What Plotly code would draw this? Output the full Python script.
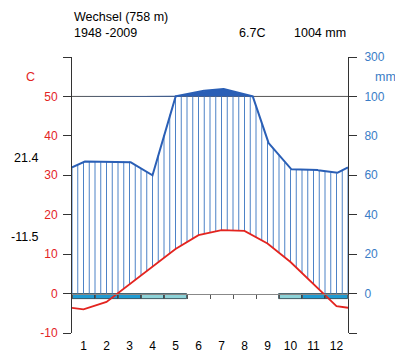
import numpy as np
import plotly.graph_objects as go

# ---------------- data ----------------
months = list(range(1, 13))
month_labels = [str(m) for m in months]
temp = [-4.0, -2.1, 2.3, 6.8, 11.3, 14.8, 16.1, 15.9, 12.7, 8.0, 2.4, -3.2]   # deg C
prec = [67, 67, 67, 60, 101, 125, 140, 113, 77, 63, 63, 61]                  # mm
frost = [2, 2, 2, 1, 1, 0, 0, 0, 0, 1, 2, 2]  # 2 = sure frost, 1 = probable frost
station = "Wechsel (758 m)"
period = "1948 -2009"
t_mean_label = "6.7C"
p_sum_label = "1004 mm"
abs_max_label = "21.4"
abs_min_label = "-11.5"
temp_ticks = [-10, 0, 10, 20, 30, 40, 50]
prec_ticks = [0, 20, 40, 60, 80, 100, 300]

# ---------------- helpers ----------------
RED = "#e3241f"
BLUE_TXT = "#3a7cc6"
PCOL = "#2a5fb6"
HATCH = "#4d82c6"
AX = "#333333"
FONT = "Liberation Sans"


def ptrans(p):
    p = np.asarray(p, dtype=float)
    return np.where(p <= 100, p / 2.0, 50 + (p - 100) / 20.0)


xm = np.array([0.0] + [m - 0.5 for m in months] + [12.0])
t_ext = np.array([(temp[0] + temp[-1]) / 2] + temp + [(temp[0] + temp[-1]) / 2])
p_ext = np.array([(prec[0] + prec[-1]) / 2] + prec + [(prec[0] + prec[-1]) / 2])

xf = np.linspace(0, 12, 1201)
pf = np.interp(xf, xm, p_ext)
pft = ptrans(pf)

# hatching (humid period)
hx, hy = [], []
for xv in np.arange(0, 12.0001, 0.25):
    lo = max(float(np.interp(xv, xm, t_ext)), 0.0)
    hi = min(float(ptrans(np.interp(xv, xm, p_ext))), 50.0)
    if hi > lo:
        hx += [xv, xv, None]
        hy += [lo, hi, None]

fig = go.Figure()

fig.add_trace(go.Scatter(x=hx, y=hy, mode="lines",
                         line=dict(color=HATCH, width=1), hoverinfo="skip",
                         showlegend=False))

# fill above 100 mm
fig.add_trace(go.Scatter(x=xf, y=np.full_like(xf, 50.0), mode="lines",
                         line=dict(width=0, color=PCOL), showlegend=False,
                         hoverinfo="skip"))
fig.add_trace(go.Scatter(x=xf, y=np.maximum(pft, 50.0), mode="lines",
                         fill="tonexty", fillcolor=PCOL,
                         line=dict(width=0, color=PCOL), showlegend=False,
                         hoverinfo="skip"))

# precipitation curve
fig.add_trace(go.Scatter(x=xf, y=pft, mode="lines",
                         line=dict(color=PCOL, width=2), showlegend=False))

# frost boxes
fx = [m - 0.5 for m, f in zip(months, frost) if f > 0]
fc = ["#1f9bd2" if f == 2 else "#8dd3d8" for f in frost if f > 0]
fig.add_trace(go.Bar(x=fx, y=[-1.4] * len(fx), base=0, width=1,
                     marker=dict(color=fc, line=dict(color="#203844", width=0.8)),
                     showlegend=False))

# temperature curve
fig.add_trace(go.Scatter(x=xm, y=t_ext, mode="lines",
                         line=dict(color=RED, width=1.8), showlegend=False))

# invisible trace for the zero-line axis
fig.add_trace(go.Scatter(x=[0, 12], y=[0, 0], xaxis="x2", yaxis="y",
                         mode="lines", line=dict(width=0), opacity=0,
                         showlegend=False, hoverinfo="skip"))

fig.add_shape(type="line", xref="x", yref="y", x0=0, x1=12, y0=50, y1=50,
              line=dict(color="#555555", width=1), layer="below")

fig.update_layout(
    width=395, height=356,
    margin=dict(l=72, r=47, t=57, b=23, pad=0, autoexpand=False),
    paper_bgcolor="white", plot_bgcolor="white",
    font=dict(family=FONT, size=12, color="black"),
    bargap=0,
    xaxis=dict(range=[0, 12], showgrid=False, zeroline=False, showline=False,
               tickvals=[m - 0.5 for m in months], ticktext=month_labels,
               ticks="", tickfont=dict(size=12, color="black"),
               ticklabelstandoff=4, automargin=False),
    xaxis2=dict(range=[0, 12], overlaying="x", anchor="free", position=10 / 70,
                showgrid=False, zeroline=False, showline=True,
                linecolor="#888888", linewidth=1,
                tickvals=list(range(0, 13)), ticks="outside", ticklen=4,
                tickcolor="#555555", showticklabels=False, automargin=False),
    yaxis=dict(range=[-10, 60], showgrid=False, zeroline=False, showline=True,
               linecolor=AX, linewidth=1, ticks="outside", ticklen=8,
               tickcolor=AX, tickvals=temp_ticks + [60],
               ticktext=[str(t) for t in temp_ticks] + [""],
               tickfont=dict(size=12, color=RED), ticklabelstandoff=3,
               automargin=False),
    yaxis2=dict(range=[-10, 60], overlaying="y", side="right", showgrid=False,
                zeroline=False, showline=True, linecolor=AX, linewidth=1,
                ticks="outside", ticklen=8, tickcolor=AX,
                tickvals=[-10] + list(ptrans(prec_ticks)),
                ticktext=[""] + [str(p) for p in prec_ticks],
                tickfont=dict(size=12, color=BLUE_TXT), ticklabelstandoff=5,
                automargin=False),
)

# make yaxis2 visible via an invisible trace
fig.add_trace(go.Scatter(x=[0, 12], y=[-10, 60], yaxis="y2", mode="lines",
                         line=dict(width=0), opacity=0, showlegend=False,
                         hoverinfo="skip"))


def px_x(px):
    return (px - 72) / 276.0


def px_y(py):
    return (333 - py) / 276.0


ann = [
    dict(text=station, x=px_x(72), y=px_y(17), xanchor="left", color="black"),
    dict(text=period, x=px_x(72), y=px_y(33), xanchor="left", color="black"),
    dict(text=t_mean_label, x=px_x(267), y=px_y(33), xanchor="right", color="black"),
    dict(text=p_sum_label, x=px_x(348), y=px_y(33), xanchor="right", color="black"),
    dict(text="C", x=px_x(30), y=px_y(77), xanchor="center", color=RED),
    dict(text="mm", x=px_x(385), y=px_y(77), xanchor="center", color=BLUE_TXT),
    dict(text=abs_max_label, x=px_x(26), y=px_y(157.5), xanchor="center", color="black"),
    dict(text=abs_min_label, x=px_x(24.5), y=px_y(236.5), xanchor="center", color="black"),
]
for a in ann:
    fig.add_annotation(text=a["text"], x=a["x"], y=a["y"], xref="paper",
                       yref="paper", xanchor=a["xanchor"], yanchor="middle",
                       showarrow=False,
                       font=dict(family=FONT, size=12.5, color=a["color"]))

fig.write_html("out.html")
